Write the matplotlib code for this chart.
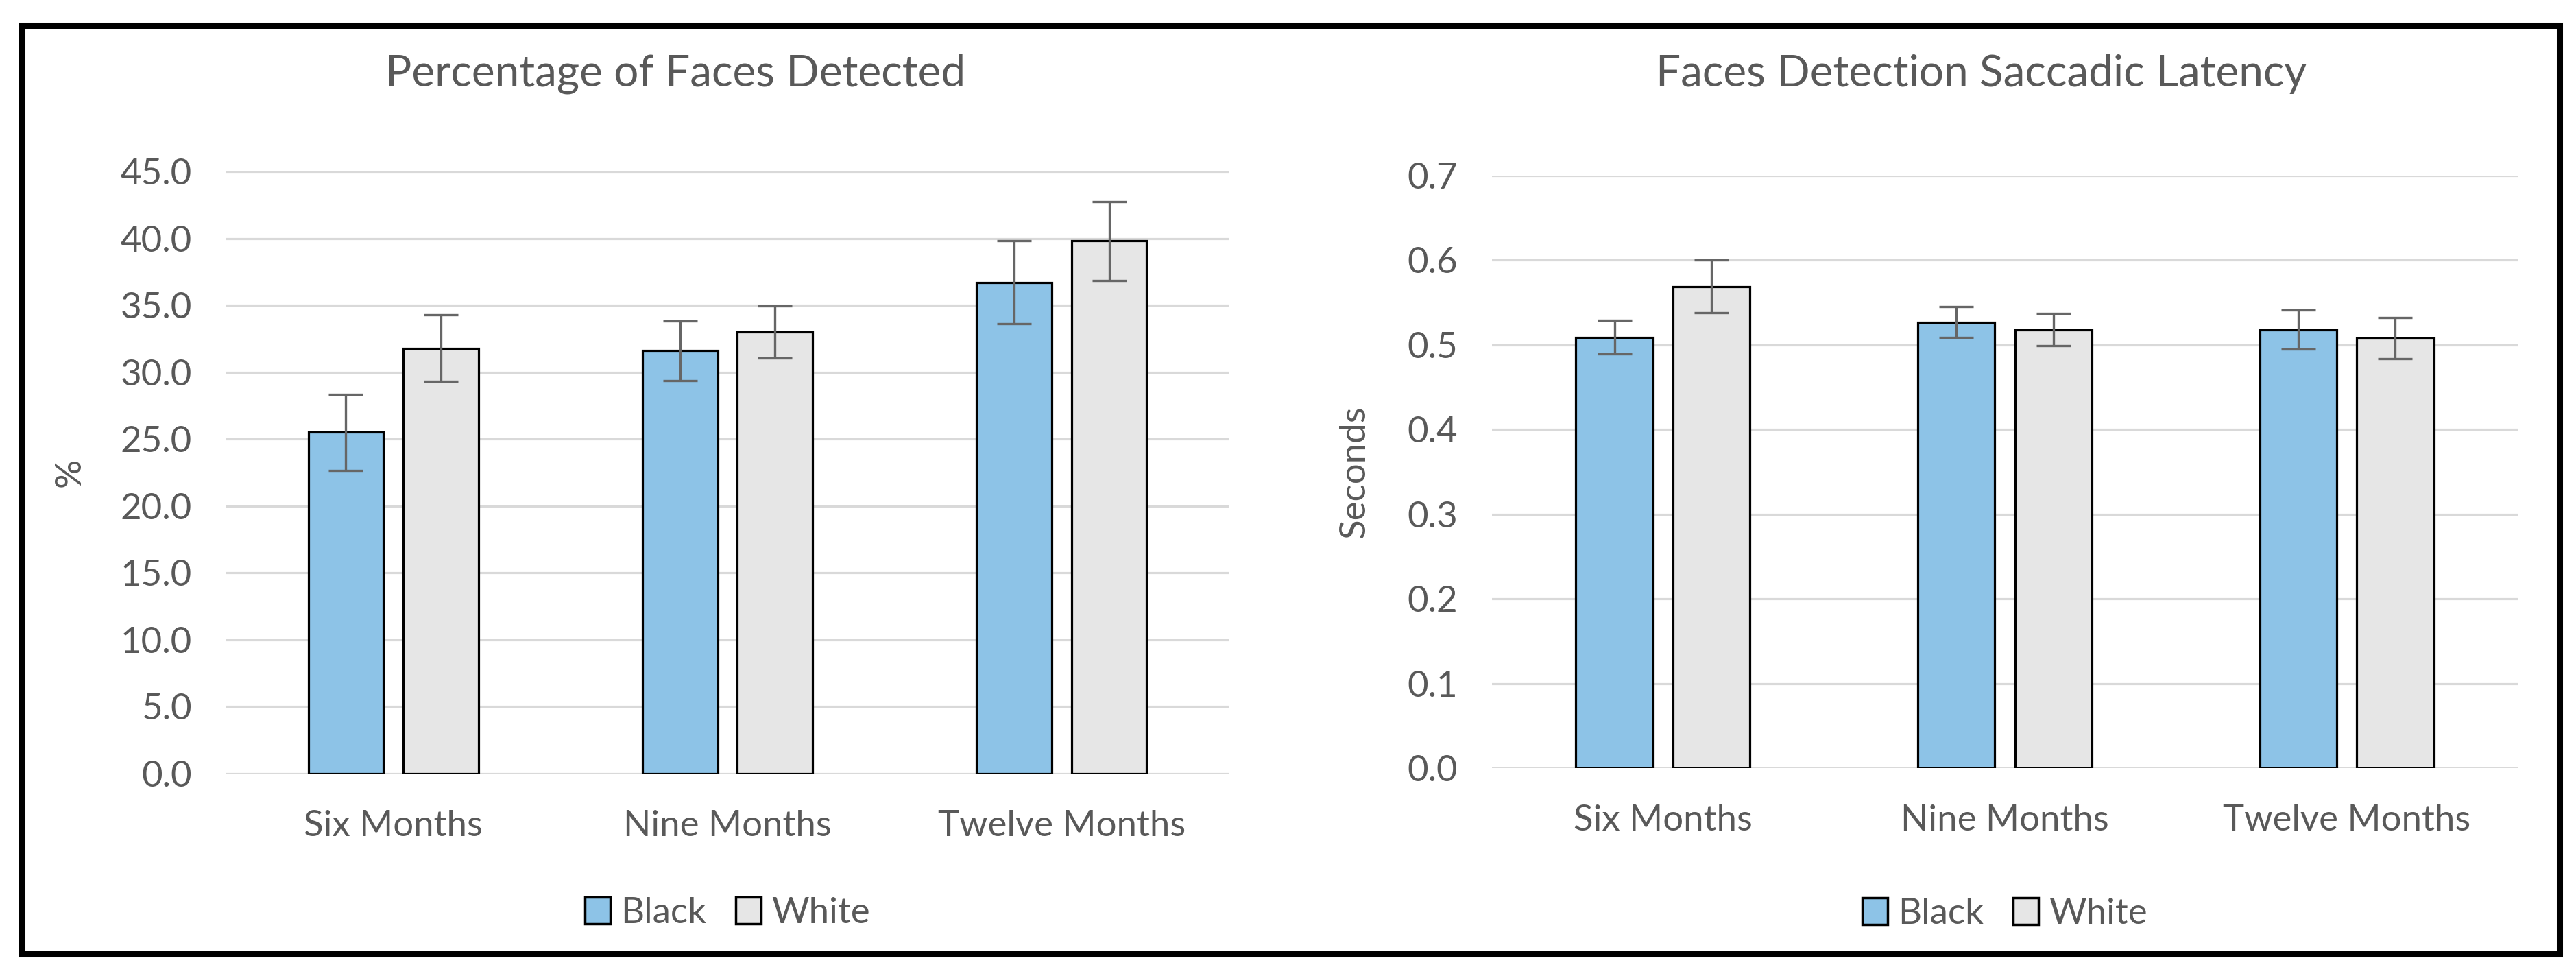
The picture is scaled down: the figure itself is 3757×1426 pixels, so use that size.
import matplotlib
matplotlib.use("Agg")
import matplotlib.pyplot as plt
import numpy as np
from matplotlib.patches import Rectangle, Patch
from matplotlib.ticker import FormatStrFormatter

# ---- data ----
categories = ["Six Months", "Nine Months", "Twelve Months"]
series = ["Black", "White"]

pct_black = [25.5, 31.6, 36.7]
pct_black_err = [2.85, 2.25, 3.1]
pct_white = [31.8, 33.0, 39.8]
pct_white_err = [2.5, 1.95, 2.95]

lat_black = [0.509, 0.527, 0.518]
lat_black_err = [0.020, 0.018, 0.023]
lat_white = [0.569, 0.518, 0.508]
lat_white_err = [0.031, 0.019, 0.024]

pct_ticks = [0, 5, 10, 15, 20, 25, 30, 35, 40, 45]
lat_ticks = [0.0, 0.1, 0.2, 0.3, 0.4, 0.5, 0.6, 0.7]

# ---- style ----
W, H = 3757, 1426
DPI = 100
FONT = ["Lato", "DejaVu Sans"]
TXT = "#595959"
BLUE = "#8DC3E7"
GRAY = "#E6E6E6"
GRID = "#D9D9D9"
ERRC = "#666666"
TICK_FS = 38
TITLE_FS = 46

plt.rcParams["font.family"] = FONT

fig = plt.figure(figsize=(W / DPI, H / DPI), dpi=DPI)
fig.patch.set_facecolor("white")


def fx(px):
    return px / W


def fy(py):
    return 1 - py / H


def make_panel(rect, black, black_err, white, white_err, ticks, ylim, fmt,
               title, title_x, ylabel, ylabel_x, legend_y):
    ax = fig.add_axes(rect)
    x = np.arange(len(categories))
    bw = 0.225
    off = 0.142
    err_kw = dict(ecolor=ERRC, elinewidth=2.4, capsize=18, capthick=2.4)
    ax.bar(x - off, black, bw, color=BLUE, edgecolor="black", linewidth=2.3,
           yerr=black_err, error_kw=err_kw, label=series[0], zorder=3)
    ax.bar(x + off, white, bw, color=GRAY, edgecolor="black", linewidth=2.3,
           yerr=white_err, error_kw=err_kw, label=series[1], zorder=3)
    ax.set_xlim(-0.5, len(categories) - 0.5)
    ax.set_ylim(*ylim)
    ax.set_yticks(ticks)
    ax.yaxis.set_major_formatter(FormatStrFormatter(fmt))
    ax.set_xticks(x)
    ax.set_xticklabels(categories)
    ax.grid(axis="y", color=GRID, linewidth=2.3, zorder=0)
    ax.set_axisbelow(True)
    for s in ax.spines.values():
        s.set_visible(False)
    ax.tick_params(axis="y", length=0, pad=36, labelsize=TICK_FS, labelcolor=TXT)
    ax.tick_params(axis="x", length=0, pad=38, labelsize=TICK_FS, labelcolor=TXT)
    ax.set_ylabel(ylabel, fontsize=TICK_FS, color=TXT)
    ax.yaxis.set_label_coords(ylabel_x, 0.5)
    handles = [Patch(facecolor=BLUE, edgecolor="black", linewidth=2.5, label=series[0]),
               Patch(facecolor=GRAY, edgecolor="black", linewidth=2.5, label=series[1])]
    leg = ax.legend(handles=handles, loc="center", bbox_to_anchor=(0.5, legend_y),
                    ncol=2, frameon=False, fontsize=TICK_FS, handlelength=0.7,
                    handleheight=0.75, handletextpad=0.3, columnspacing=0.8)
    for t in leg.get_texts():
        t.set_color(TXT)
    fig.text(title_x, fy(108), title, ha="center", va="center",
             fontsize=TITLE_FS, color=TXT)
    return ax


# left panel: plot area x 330..1792, y 250 (45) .. 1128 (0)
make_panel([fx(330), fy(1128), fx(1792) - fx(330), fy(250) - fy(1128)],
           pct_black, pct_black_err, pct_white, pct_white_err,
           pct_ticks, (0, 45), "%.1f",
           "Percentage of Faces Detected", fx(985), "%", -0.140, -0.232)

# right panel: plot area x 2176..3672, y 256 (0.7) .. 1120 (0)
make_panel([fx(2176), fy(1120), fx(3672) - fx(2176), fy(256) - fy(1120)],
           lat_black, lat_black_err, lat_white, lat_white_err,
           lat_ticks, (0, 0.7), "%.1f",
           "Faces Detection Saccadic Latency", fx(2890), "Seconds", -0.118, -0.246)

# outer black frame
fig.patches.append(Rectangle((fx(32), fy(1390.5)), fx(3732.5) - fx(32),
                             fy(36.5) - fy(1390.5), transform=fig.transFigure,
                             fill=False, edgecolor="black", linewidth=6.5))

fig.savefig("out.png", dpi=DPI, facecolor="white")
